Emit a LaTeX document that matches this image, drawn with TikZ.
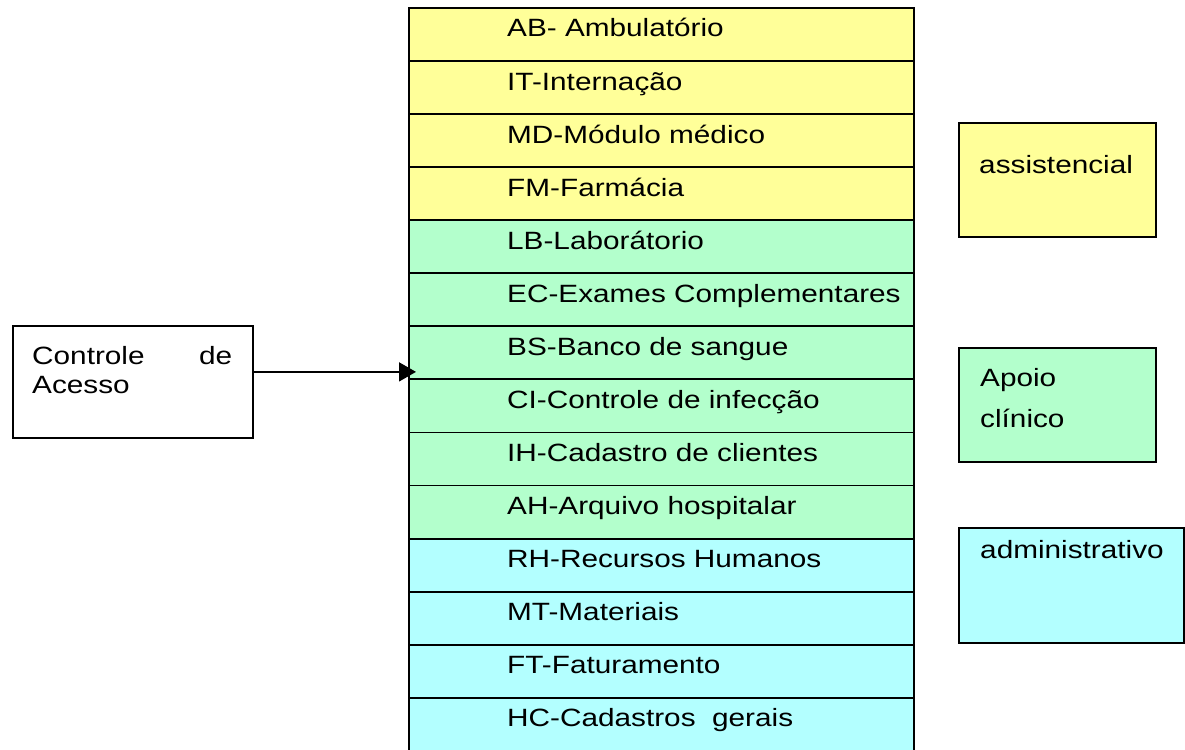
\documentclass[tikz,border=0pt]{standalone}
\usepackage{fontspec}
\setmainfont{Liberation Sans}
\usetikzlibrary{arrows.meta,calc}
\definecolor{cyel}{HTML}{FFFF99}
\definecolor{cgrn}{HTML}{B3FFCC}
\definecolor{ccyn}{HTML}{B3FFFF}
\newcommand{\sx}[1]{\scalebox{1.19}[1]{#1}}
\begin{document}
\begin{tikzpicture}[x=1pt,y=-1pt,
  rowbox/.style={draw, line width=1.8pt, minimum width=505pt, minimum height=53.07pt, inner sep=0pt, anchor=north west},
  txt/.style={anchor=base west, inner sep=0pt, font=\fontsize{25}{30}\selectfont},
  sidebox/.style={draw, line width=1.8pt, anchor=north west, inner sep=0pt},
  conn/.style={line width=1.6pt, -{Triangle[length=17pt,width=19pt]}}]
\useasboundingbox (0,0) rectangle (1185,749);
\clip (0,0) rectangle (1185,749);
\fill[white] (0,0) rectangle (1185,749);
% main column
\foreach \t/\c [count=\i] in {
  AB- Ambulatório/cyel,
  IT-Internação/cyel,
  MD-Módulo médico/cyel,
  FM-Farmácia/cyel,
  LB-Laborátorio/cgrn,
  EC-Exames Complementares/cgrn,
  BS-Banco de sangue/cgrn,
  CI-Controle de infecção/cgrn,
  IH-Cadastro de clientes/cgrn,
  AH-Arquivo hospitalar/cgrn,
  RH-Recursos Humanos/ccyn,
  MT-Materiais/ccyn,
  FT-Faturamento/ccyn,
  HC-Cadastros\ \ gerais/ccyn} {
  \node[rowbox, fill=\c] (r\i) at (408, {7+53.07*(\i-1)}) {};
  \node[txt] (t\i) at ([xshift=99pt, yshift=-30pt]r\i.north west) {\sx{\t}};
}
% access control box
\node[sidebox, fill=white, minimum width=240pt, minimum height=112pt] (ca) at (12,325) {};
\node[txt] (ca1) at (32,364) {\makebox[200pt][s]{\sx{Controle}\hfill\sx{de}}};
\node[txt] (ca2) at (32,393) {\sx{Acesso}};
\coordinate (ain) at ([yshift=10pt]ca.east);
\draw[conn] (ain) -- ($(ain -| r7.west)+(8,0)$);
% legend boxes
\node[sidebox, fill=cyel, minimum width=197pt, minimum height=114pt] (lg1) at (958,122) {};
\node[txt] (lg1t) at (979,173) {\sx{assistencial}};
\node[sidebox, fill=cgrn, minimum width=197pt, minimum height=114pt] (lg2) at (958,347) {};
\node[txt] (lg2a) at (980,386) {\sx{Apoio}};
\node[txt] (lg2b) at (980,427) {\sx{clínico}};
\node[sidebox, fill=ccyn, minimum width=225pt, minimum height=115pt] (lg3) at (958,527) {};
\node[txt] (lg3t) at (980,558) {\sx{administrativo}};
\end{tikzpicture}
\end{document}
